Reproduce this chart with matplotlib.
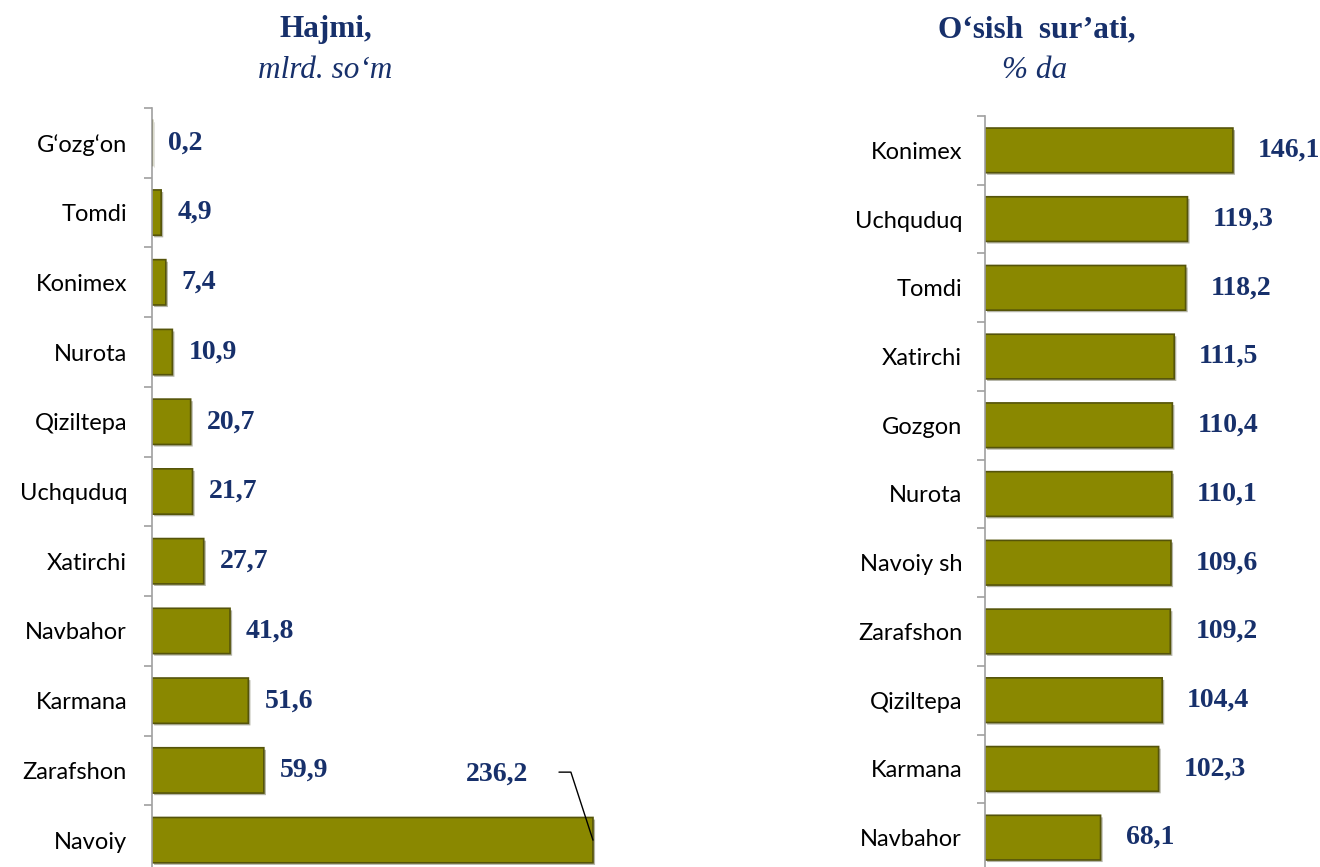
import matplotlib.pyplot as plt
import matplotlib.patheffects as pe
import numpy as np

# Left chart: volume, bln. so'm
vol_regions = ["G‘ozg‘on", "Tomdi", "Konimex", "Nurota", "Qiziltepa", "Uchquduq",
               "Xatirchi", "Navbahor", "Karmana", "Zarafshon", "Navoiy"]
vol_values = [0.2, 4.9, 7.4, 10.9, 20.7, 21.7, 27.7, 41.8, 51.6, 59.9, 236.2]

# Right chart: growth rate, %
gr_regions = ["Konimex", "Uchquduq", "Tomdi", "Xatirchi", "Gozgon", "Nurota",
              "Navoiy sh", "Zarafshon", "Qiziltepa", "Karmana", "Navbahor"]
gr_values = [146.1, 119.3, 118.2, 111.5, 110.4, 110.1, 109.6, 109.2, 104.4, 102.3, 68.1]

bar_color = "#8a8800"
edge_color = "#55540a"
navy = "#17306b"
serif = "Liberation Serif"
sans = "Lato"

W, H = 1320, 867
fig = plt.figure(figsize=(W / 100, H / 100), dpi=100)


def px_axes(left, top, right, bottom):
    return fig.add_axes([left / W, 1 - bottom / H, (right - left) / W, (bottom - top) / H])


def draw(ax, labels, values, xmax, pad):
    y = np.arange(len(labels))
    bars = ax.barh(y, values, height=0.65, color=bar_color, edgecolor=edge_color,
                   linewidth=1.2, snap=False)
    for b in bars:
        b.set_path_effects([pe.SimplePatchShadow(offset=(1.5, -1.5), alpha=0.35), pe.Normal()])
    ax.set_xlim(0, xmax)
    ax.set_ylim(len(labels) - 0.5, -0.5)
    ax.set_yticks(y)
    ax.set_yticklabels(labels, fontsize=17, family=sans, color="black")
    ax.set_yticks(np.arange(len(labels) + 1) - 0.5, minor=True)
    ax.tick_params(axis="y", which="major", length=0, pad=pad)
    ax.tick_params(axis="y", which="minor", length=6, color="#a0a0a0", width=1.2)
    ax.set_xticks([])
    for s in ["top", "right", "bottom"]:
        ax.spines[s].set_visible(False)
    ax.spines["left"].set_color("#a0a0a0")
    ax.spines["left"].set_linewidth(1.2)
    return y


def fmt(v):
    return f"{v:.1f}".replace(".", ",")


ax1 = px_axes(152, 108, 152 + 260 * 1.867, 875)
y1 = draw(ax1, vol_regions, vol_values, 260, 18)
for yi, v in zip(y1[:-1], vol_values[:-1]):
    ax1.annotate(fmt(v), (v, yi), xytext=(16, 0), textcoords="offset pixels",
                 ha="left", va="center", fontsize=20, fontweight="bold", family=serif, color=navy)

# Navoiy label with leader line
v, yi = vol_values[-1], y1[-1]
ax1.annotate(fmt(v), (v, yi), xytext=(-96, 66), textcoords="offset pixels",
             ha="center", va="center", fontsize=20, fontweight="bold", family=serif, color=navy)
ax1.annotate("", (v, yi), xytext=(-34, 68), textcoords="offset pixels",
             arrowprops=dict(arrowstyle="-", color="black", lw=1, shrinkA=0, shrinkB=0,
                             connectionstyle="angle,angleA=0,angleB=108,rad=0"))

ax2 = px_axes(985, 116, 985 + 170 * 1.697, 872)
y2 = draw(ax2, gr_regions, gr_values, 170, 16.5)
for yi, v in zip(y2, gr_values):
    ax2.annotate(fmt(v), (v, yi), xytext=(25, 0), textcoords="offset pixels",
                 ha="left", va="center", fontsize=20, fontweight="bold", family=serif, color=navy)

# Titles
fig.text(326 / W, 1 - 30 / H, "Hajmi,", ha="center", va="center", fontsize=22.5,
         fontweight="bold", family=serif, color=navy)
fig.text(325 / W, 1 - 70 / H, "mlrd. so‘m", ha="center", va="center", fontsize=22.5,
         fontstyle="italic", family=serif, color=navy)
fig.text(1037 / W, 1 - 30 / H, "O‘sish  sur’ati,", ha="center", va="center", fontsize=22.5,
         fontweight="bold", family=serif, color=navy)
fig.text(1035 / W, 1 - 70 / H, "% da", ha="center", va="center", fontsize=22.5,
         fontstyle="italic", family=serif, color=navy)

fig.savefig("out.png", dpi=100)
